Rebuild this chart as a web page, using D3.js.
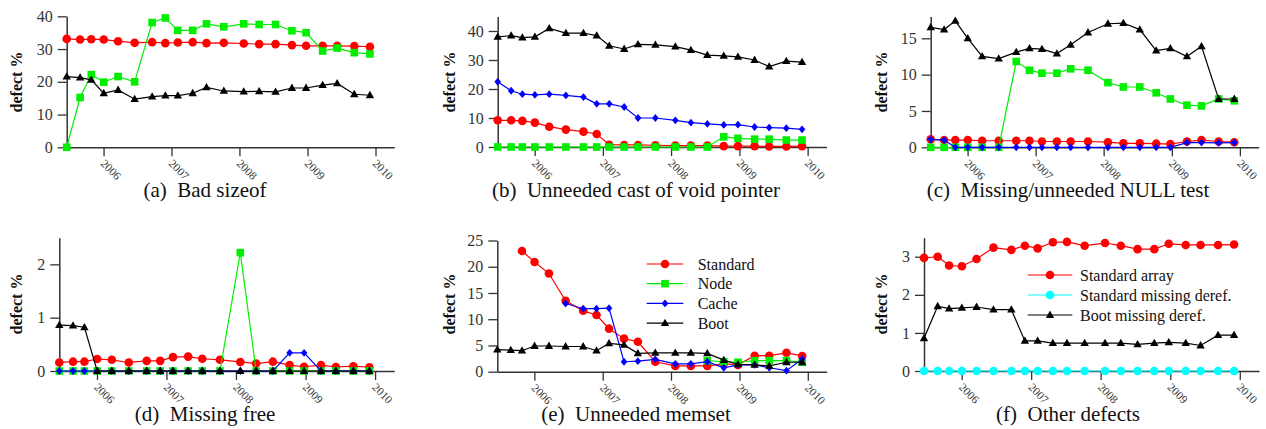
<!DOCTYPE html>
<html>
<head>
<meta charset="utf-8">
<script src="https://cdn.jsdelivr.net/npm/d3@7"></script>
<style>
  body { margin: 0; background: #fff; }
  svg text { font-family: "Liberation Serif", "DejaVu Serif", serif; }
</style>
</head>
<body>
<div id="app"></div>
<script>
// kernel release dates (x positions)
var releaseDates = ["2005-06-17", "2005-08-28", "2005-10-27", "2006-01-02", "2006-03-20", "2006-06-17",
  "2006-09-19", "2006-11-29", "2007-02-04", "2007-04-25", "2007-07-08", "2007-10-09", "2008-01-24",
  "2008-04-16", "2008-07-13", "2008-10-09", "2008-12-24", "2009-03-23", "2009-06-09", "2009-09-09", "2009-12-02"];
var yearTicks = [2006, 2007, 2008, 2009, 2010];

// (a) Bad sizeof
var aStandard = [33.1, 32.9, 33.0, 32.9, 32.4, 31.9, 32.1, 31.8, 32.0, 32.1, 31.8, 31.9, 31.7, 31.5, 31.5, 31.2, 31.0, 31.0, 31.0, 30.9, 30.7];
var aNode = [0, 15.2, 22.2, 19.9, 21.6, 20.0, 38.1, 39.5, 35.7, 35.7, 37.7, 36.8, 37.7, 37.5, 37.5, 35.6, 35.0, 29.4, 30.3, 28.9, 28.5];
var aBoot = [21.6, 21.3, 20.6, 16.5, 17.5, 14.7, 15.5, 15.8, 15.8, 16.5, 18.3, 17.2, 17.0, 17.1, 16.9, 18.1, 18.1, 19.0, 19.5, 16.2, 15.9];

// (b) Unneeded cast of void pointer
var bStandard = [9.2, 9.2, 9.0, 8.4, 7.0, 6.0, 5.3, 4.5, 0.8, 0.7, 0.7, 0.6, 0.5, 0.5, 0.5, 0.3, 0.3, 0.3, 0.2, 0.2, 0.3];
var bNode = [0, 0, 0, 0, 0, 0, 0, 0, 0, 0, 0, 0, 0, 0, 0, 3.5, 3.0, 2.7, 2.7, 2.4, 2.4];
var bCache = [22.5, 19.4, 18.2, 18.0, 18.2, 17.8, 17.2, 14.9, 14.9, 13.8, 10.0, 10.0, 9.2, 8.4, 8.0, 7.6, 7.7, 6.9, 6.7, 6.5, 6.1];
var bBoot = [38.0, 38.4, 37.7, 38.0, 40.9, 39.3, 39.3, 38.4, 34.9, 33.8, 35.4, 35.2, 34.6, 33.4, 31.7, 31.4, 31.1, 30.0, 27.7, 29.6, 29.3];

// (c) Missing/unneeded NULL test
var cStandard = [1.1, 1.0, 1.0, 1.0, 0.9, 0.9, 0.9, 0.9, 0.8, 0.8, 0.8, 0.8, 0.7, 0.55, 0.55, 0.5, 0.45, 0.8, 1.0, 0.8, 0.7];
var cNode = [0, 0, 0, 0, 0, 0, 11.8, 10.6, 10.2, 10.2, 10.8, 10.6, 8.9, 8.3, 8.3, 7.5, 6.65, 5.8, 5.7, 6.65, 6.4];
var cCache = [1.1, 1.0, 0, 0, 0, 0, 0, 0, 0, 0, 0, 0, 0, 0, 0, 0, 0, 0.65, 0.65, 0.6, 0.65];
var cBoot = [16.5, 16.2, 17.4, 15.0, 12.5, 12.2, 13.1, 13.6, 13.5, 12.9, 14.1, 15.8, 17.0, 17.1, 16.2, 13.3, 13.6, 12.5, 13.9, 6.65, 6.65];

// (d) Missing free
var dStandard = [0.16, 0.175, 0.175, 0.225, 0.21, 0.16, 0.19, 0.19, 0.26, 0.27, 0.23, 0.21, 0.17, 0.14, 0.175, 0.11, 0.08, 0.11, 0.075, 0.09, 0.07];
var dNode = [0, 0, 0, 0, 0, 0, 0, 0, 0, 0, 0, 0, 2.22, 0, 0, 0, 0, 0, 0, 0, 0];
var dCache = [0, 0, 0, 0, 0, 0, 0, 0, 0, 0, 0, 0, 0, 0, 0, 0.34, 0.34, 0, 0, 0, 0];
var dBoot = [0.86, 0.85, 0.82, 0, 0, 0, 0, 0, 0, 0, 0, 0, 0, 0, 0, 0, 0, 0, 0, 0, 0];

// (e) Unneeded memset
var eStandard = [null, null, 23.0, 20.9, 18.7, 13.5, 11.6, 10.8, 8.2, 6.3, 5.7, 1.9, 1.1, 1.1, 1.1, 1.5, 1.3, 3.05, 3.05, 3.6, 3.0];
var eNode = [null, null, null, null, null, null, null, null, null, null, null, null, null, null, 2.1, 1.9, 1.8, 2.1, 2.1, 2.1, 1.8];
var eCache = [null, null, null, null, null, 13.0, 12.0, 12.0, 12.1, 1.9, 2.0, 2.35, 1.5, 1.5, 1.9, 0.75, 1.3, 1.3, 0.75, 0.2, 2.4];
var eBoot = [4.2, 4.1, 4.0, 4.9, 4.9, 4.8, 4.8, 4.0, 5.4, 5.1, 3.5, 3.6, 3.6, 3.6, 3.5, 2.2, 1.4, 1.3, 1.1, 1.8, 1.8];

// (f) Other defects
var fStandardArray = [2.97, 3.0, 2.77, 2.75, 2.94, 3.24, 3.18, 3.29, 3.22, 3.38, 3.39, 3.29, 3.36, 3.29, 3.20, 3.20, 3.34, 3.31, 3.31, 3.31, 3.32];
var fStandardDeref = [0, 0, 0, 0, 0, 0, 0, 0, 0, 0, 0, 0, 0, 0, 0, 0, 0, 0, 0, 0, 0];
var fBootDeref = [0.86, 1.70, 1.64, 1.66, 1.68, 1.61, 1.61, 0.79, 0.79, 0.73, 0.73, 0.73, 0.73, 0.73, 0.70, 0.73, 0.75, 0.73, 0.67, 0.94, 0.94];

var legendE = ["Standard", "Node", "Cache", "Boot"];
var legendF = ["Standard array", "Standard missing deref.", "Boot missing deref."];

// series styles
var styles = {
  red:   { color: "#ff0000", shape: "circle" },
  green: { color: "#00ee00", shape: "square" },
  blue:  { color: "#0000ff", shape: "diamond" },
  black: { color: "#000000", shape: "triangle" },
  cyan:  { color: "#00ffff", shape: "circle" }
};

var panels = [
  { caption: "(a)", title: "Bad sizeof", yMax: 40, yTicks: [0, 10, 20, 30, 40],
    left: 66.7, right: 394.3, top: 16.3, bottom: 147.3, col: 0, row: 0,
    series: [[aStandard, "red"], [aNode, "green"], [aBoot, "black"]] },
  { caption: "(b)", title: "Unneeded cast of void pointer", yMax: 45, yTicks: [0, 10, 20, 30, 40],
    left: 497.7, right: 826.5, top: 16.5, bottom: 147, col: 1, row: 0,
    series: [[bStandard, "red"], [bNode, "green"], [bCache, "blue"], [bBoot, "black"]] },
  { caption: "(c)", title: "Missing/unneeded NULL test", yMax: 18, yTicks: [0, 5, 10, 15],
    left: 930.7, right: 1258.7, top: 16.5, bottom: 147.3, col: 2, row: 0,
    series: [[cStandard, "red"], [cNode, "green"], [cCache, "blue"], [cBoot, "black"]] },
  { caption: "(d)", title: "Missing free", yMax: 2.5, yTicks: [0, 1, 2],
    left: 59.3, right: 394.3, top: 237.7, bottom: 371, col: 0, row: 1,
    series: [[dStandard, "red"], [dNode, "green"], [dCache, "blue"], [dBoot, "black"]] },
  { caption: "(e)", title: "Unneeded memset", yMax: 25, yTicks: [0, 5, 10, 15, 20, 25],
    left: 497.3, right: 826.7, top: 240.5, bottom: 371.7, col: 1, row: 1,
    series: [[eStandard, "red"], [eNode, "green"], [eCache, "blue"], [eBoot, "black"]],
    legend: { names: legendE, keys: ["red", "green", "blue", "black"], x0: 646.7, x1: 683.3, tx: 697.7, y: 264, dy: 19.7 } },
  { caption: "(f)", title: "Other defects", yMax: 3.5, yTicks: [0, 1, 2, 3],
    left: 924, right: 1259, top: 237.7, bottom: 371, col: 2, row: 1,
    series: [[fStandardArray, "red"], [fStandardDeref, "cyan"], [fBootDeref, "black"]],
    legend: { names: legendF, keys: ["red", "cyan", "black"], x0: 1027.7, x1: 1072.3, tx: 1080, y: 275, dy: 20 } }
];

var width = 1266, height = 429;
var serif = "'Liberation Serif', 'DejaVu Serif', serif";
var colCenters = [205, 636, 1068];
var yLabelX = [22, 455, 887];
var yLabelY = [82, 304];
var captionY = [197, 421];

var svg = d3.select("#app").append("svg")
  .attr("width", width)
  .attr("height", height)
  .attr("font-family", serif);

var dates = releaseDates.map(d3.timeParse("%Y-%m-%d"));
var endDate = d3.timeParse("%Y-%m-%d")("2010-04-12");

function drawMarker(g, shape, color, x, y) {
  if (shape === "circle") {
    g.append("circle").attr("cx", x).attr("cy", y).attr("r", 4.3).attr("fill", color);
  } else if (shape === "square") {
    g.append("rect").attr("x", x - 3.8).attr("y", y - 3.8).attr("width", 7.6).attr("height", 7.6).attr("fill", color);
  } else if (shape === "diamond") {
    g.append("path").attr("d", "M" + x + "," + (y - 3.9) + "L" + (x + 3.3) + "," + y + "L" + x + "," + (y + 3.9) + "L" + (x - 3.3) + "," + y + "Z").attr("fill", color);
  } else {
    g.append("path").attr("d", "M" + x + "," + (y - 4.4) + "L" + (x + 4.2) + "," + (y + 2.9) + "L" + (x - 4.2) + "," + (y + 2.9) + "Z").attr("fill", color);
  }
}

panels.forEach(function(p) {
  var g = svg.append("g");
  var x = d3.scaleTime().domain([dates[0], endDate]).range([p.left, p.right]);
  var y = d3.scaleLinear().domain([0, p.yMax]).range([p.bottom, p.top]);

  // x axis
  var xAxis = g.append("g").attr("transform", "translate(0," + p.bottom + ")")
    .call(d3.axisBottom(x)
      .tickValues(yearTicks.map(function(yr) { return new Date(yr, 0, 1); }))
      .tickSizeInner(9).tickSizeOuter(0).tickFormat(d3.timeFormat("%Y")));
  xAxis.attr("font-family", serif);
  xAxis.select(".domain").attr("stroke", "#333").attr("stroke-width", 1.5);
  xAxis.selectAll(".tick line").attr("stroke", "#333").attr("stroke-width", 1.3);
  xAxis.selectAll(".tick text")
    .attr("fill", "#333").attr("font-size", 11.5)
    .attr("text-anchor", "start").attr("dy", null).attr("y", 0)
    .attr("transform", "translate(-4,17) rotate(45)");

  // y axis
  var yAxis = g.append("g").attr("transform", "translate(" + p.left + ",0)")
    .call(d3.axisLeft(y).tickValues(p.yTicks).tickFormat(d3.format("~g"))
      .tickSizeInner(9).tickSizeOuter(0).tickPadding(5));
  yAxis.attr("font-family", serif);
  yAxis.select(".domain").attr("stroke", "#333").attr("stroke-width", 1.5);
  yAxis.selectAll(".tick line").attr("stroke", "#333").attr("stroke-width", 1.3);
  yAxis.selectAll(".tick text").attr("fill", "#333").attr("font-size", 16);

  // y label
  g.append("text")
    .attr("transform", "translate(" + yLabelX[p.col] + "," + yLabelY[p.row] + ") rotate(-90)")
    .attr("text-anchor", "middle")
    .attr("font-weight", "bold").attr("font-size", 16).attr("fill", "#111")
    .text("defect %");

  // caption
  g.append("text")
    .attr("x", colCenters[p.col]).attr("y", captionY[p.row])
    .attr("text-anchor", "middle").attr("font-size", 21).attr("fill", "#111")
    .text(p.caption + "\u00a0 " + p.title);

  // series
  var line = d3.line()
    .defined(function(d) { return d != null; })
    .x(function(d, i) { return x(dates[i]); })
    .y(function(d) { return y(d); });

  p.series.forEach(function(s) {
    var st = styles[s[1]];
    var sg = g.append("g");
    sg.append("path").attr("d", line(s[0]))
      .attr("fill", "none").attr("stroke", st.color).attr("stroke-width", 1.2);
    s[0].forEach(function(v, i) {
      if (v != null) drawMarker(sg, st.shape, st.color, x(dates[i]), y(v));
    });
  });

  // legend
  if (p.legend) {
    var L = p.legend;
    L.names.forEach(function(name, i) {
      var st = styles[L.keys[i]];
      var ly = L.y + i * L.dy;
      g.append("line").attr("x1", L.x0).attr("x2", L.x1).attr("y1", ly).attr("y2", ly)
        .attr("stroke", st.color).attr("stroke-width", 1.2);
      drawMarker(g, st.shape, st.color, (L.x0 + L.x1) / 2, ly);
      g.append("text").attr("x", L.tx).attr("y", ly + 5.5)
        .attr("font-size", 16).attr("fill", "#111").text(name);
    });
  }
});
</script>
</body>
</html>
